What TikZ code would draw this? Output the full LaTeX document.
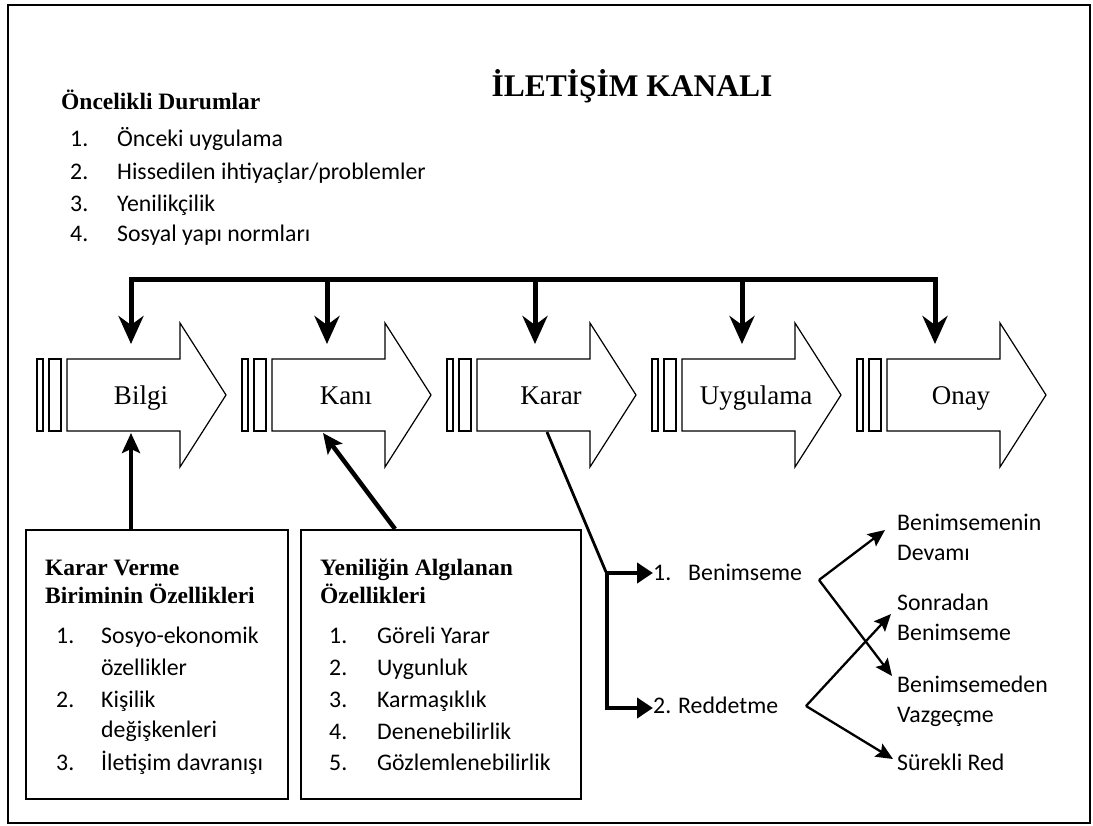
\documentclass[tikz,border=0pt]{standalone}
\usepackage{fontspec}
\setmainfont{Liberation Serif}
\newfontfamily\calfont{Carlito}
\usetikzlibrary{arrows.meta}
\tikzset{
  stageline/.style={draw=black, line width=1.2pt, fill=white},
  stagelabel/.style={font=\fontsize{27}{30}\selectfont, anchor=base, inner sep=0pt},
  bus/.style={line width=5pt, line join=miter},
  busarrow/.style={bus, -{Stealth[length=28pt,width=25pt,inset=9pt]}},
  boxstyle/.style={draw=black, line width=1.5pt, anchor=north west, inner sep=0pt},
  head/.style={font=\bfseries\fontsize{23.5}{26}\selectfont, anchor=base west, inner sep=0pt},
  item/.style={font=\calfont\fontsize{23.8}{26}\selectfont, anchor=base west, inner sep=0pt},
  uparrow/.style={line width=4.5pt, -{Stealth[length=20pt,width=18pt,inset=4pt]}},
  decline/.style={line width=2.8pt},
  decarrow/.style={line width=4.5pt, -{Triangle[length=16pt,width=20pt]}},
  brarrow/.style={line width=2.3pt, -{Stealth[length=17pt,width=15pt,inset=3pt]}}
}
\newcommand\stage[3]{%
  \draw[stageline] (#1,359) rectangle (#1+6,431);
  \draw[stageline] (#1+12,359) rectangle (#1+24,431);
  \draw[stageline] (#1+30,359) -- (#1+143,359) -- (#1+143,323) -- (#1+189,395)
     -- (#1+143,467) -- (#1+143,431) -- (#1+30,431) -- cycle;
  \node[stagelabel] (#2) at (#1+104,404) {#3};
}
\begin{document}
\begin{tikzpicture}[x=1pt,y=-1pt]
\useasboundingbox (0,0) rectangle (1093,826);
\draw[line width=1.4pt] (8,5) rectangle (1090,823);

% title
\node[font=\bfseries\fontsize{31.5}{34}\selectfont, anchor=base, inner sep=0pt] (title) at (632,97) {İLETİŞİM KANALI};

% prior conditions
\node[head] (prior) at (61,110) {Öncelikli Durumlar};
\node[item] (p1n) at (70,147) {1.};
\node[item] (p1) at (117,147) {Önceki uygulama};
\node[item] (p2n) at (70,180) {2.};
\node[item] (p2) at (117,180) {Hissedilen ihtiyaçlar/problemler};
\node[item] (p3n) at (70,212) {3.};
\node[item] (p3) at (117,212) {Yenilikçilik};
\node[item] (p4n) at (70,242) {4.};
\node[item] (p4) at (117,242) {Sosyal yapı normları};

% stages
\stage{37}{bilgi}{Bilgi}
\stage{242}{kani}{Kanı}
\stage{447}{karar}{Karar}
\stage{652}{uygulama}{Uygulama}
\stage{857}{onay}{Onay}

% bus coordinates
\coordinate (bilgi-in) at (131,344);
\coordinate (kani-in) at (327,344);
\coordinate (karar-in) at (535,344);
\coordinate (uyg-in) at (742,344);
\coordinate (onay-in) at (935,344);
\coordinate (bus-l) at (131,280);
\coordinate (bus-2) at (327,280);
\coordinate (bus-3) at (535,280);
\coordinate (bus-4) at (742,280);
\coordinate (bus-r) at (935,280);
\draw[bus, {Stealth[length=28pt,width=25pt,inset=9pt]}-{Stealth[length=28pt,width=25pt,inset=9pt]}]
  (bilgi-in) -- (bus-l) -- (bus-r) -- (onay-in);
\draw[busarrow] (bus-2) -- (kani-in);
\draw[busarrow] (bus-3) -- (karar-in);
\draw[busarrow] (bus-4) -- (uyg-in);

% box 1
\node[boxstyle, minimum width=262pt, minimum height=269pt] (box1) at (25,529) {};
\node[head] (b1h1) at (45,575) {Karar Verme};
\node[head] (b1h2) at (45,603) {Biriminin Özellikleri};
\node[item] (b1n1) at (56,643) {1.};
\node[item] (b1i1) at (101,643) {Sosyo-ekonomik};
\node[item] (b1i1b) at (101,675) {özellikler};
\node[item] (b1n2) at (56,707) {2.};
\node[item] (b1i2) at (101,707) {Kişilik};
\node[item] (b1i2b) at (101,737) {değişkenleri};
\node[item] (b1n3) at (56,770) {3.};
\node[item] (b1i3) at (101,770) {İletişim davranışı};

% box 2
\node[boxstyle, minimum width=280pt, minimum height=269pt] (box2) at (300,529) {};
\node[head] (b2h1) at (320,575) {Yeniliğin Algılanan};
\node[head] (b2h2) at (320,603) {Özellikleri};
\node[item] (b2n1) at (329,643) {1.};
\node[item] (b2i1) at (377,643) {Göreli Yarar};
\node[item] (b2n2) at (329,675) {2.};
\node[item] (b2i2) at (377,675) {Uygunluk};
\node[item] (b2n3) at (329,707) {3.};
\node[item] (b2i3) at (377,707) {Karmaşıklık};
\node[item] (b2n4) at (329,739) {4.};
\node[item] (b2i4) at (377,739) {Denenebilirlik};
\node[item] (b2n5) at (329,770) {5.};
\node[item] (b2i5) at (377,770) {Gözlemlenebilirlik};

% arrows from boxes
\coordinate (box1-out) at (131,529);
\coordinate (bilgi-bot) at (131,433);
\coordinate (box2-out) at (395,529);
\coordinate (kani-bot) at (323,433);
\draw[uparrow] (box1-out) -- (bilgi-bot);
\draw[uparrow] (box2-out) -- (kani-bot);

% decision
\coordinate (karar-bot) at (547,432);
\coordinate (dec-top) at (606,572);
\coordinate (dec-a) at (607,573);
\coordinate (dec-b) at (607,708);
\node[item] (d1n) at (653,580) {1.};
\node[item] (d1) at (688,580) {Benimseme};
\node[item] (d2n) at (653,713) {2.};
\node[item] (d2) at (678,713) {Reddetme};
\draw[decline] (karar-bot) -- (dec-top);
\draw[line width=4.5pt] (607,570.75) -- (dec-b);
\draw[decarrow] (604.75,573) -- (d1n.west |- dec-a);
\draw[decarrow] (604.75,708) -- (d2n.west |- dec-b);

% outcomes
\node[item] (o1) at (897,530) {Benimsemenin};
\node[item] (o1b) at (897,560) {Devamı};
\node[item] (o2) at (897,610) {Sonradan};
\node[item] (o2b) at (897,640) {Benimseme};
\node[item] (o3) at (897,692) {Benimsemeden};
\node[item] (o3b) at (897,722) {Vazgeçme};
\node[item] (o4) at (897,770) {Sürekli Red};

\coordinate (br1) at (819,580);
\coordinate (br2) at (806,706);
\coordinate (o1-in) at (885,530);
\coordinate (o3-in) at (892,676);
\coordinate (o2-in) at (891,614);
\coordinate (o4-in) at (893,759);
\draw[brarrow] (br1) -- (o1-in);
\draw[brarrow] (br1) -- (o3-in);
\draw[brarrow] (br2) -- (o2-in);
\draw[brarrow] (br2) -- (o4-in);
\end{tikzpicture}
\end{document}
